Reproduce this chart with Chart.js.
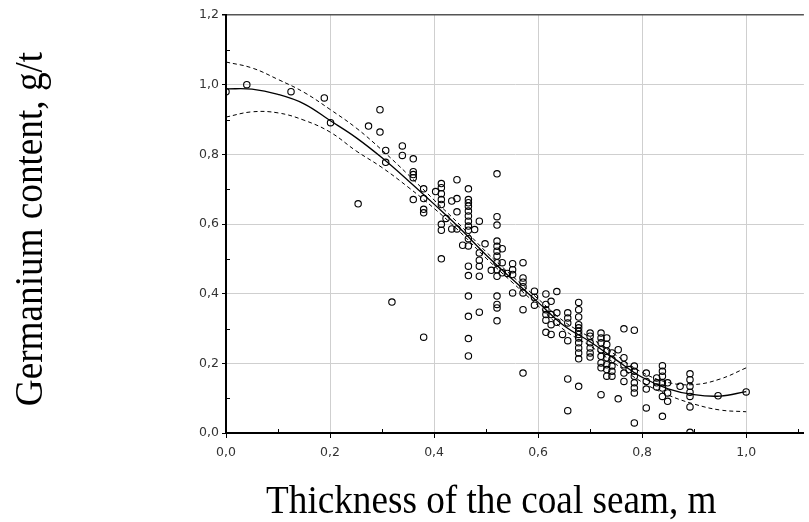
<!DOCTYPE html>
<html>
<head>
<meta charset="utf-8">
<script src="https://cdn.jsdelivr.net/npm/chart.js@4/dist/chart.umd.min.js"></script>
<style>
  html, body { margin: 0; padding: 0; background: #fff; overflow: hidden; }
  #wrap { width: 809px; height: 522px; position: relative; }
</style>
</head>
<body>
<div id="wrap"><canvas id="chart" width="809" height="522"></canvas></div>
<script>
// Seam thickness (m) and germanium content (g/t) of the samples
const thickness = [
  0.0, 0.04, 0.125, 0.189, 0.201, 0.254, 0.274, 0.296, 0.296, 0.307, 0.307, 0.319, 0.339, 0.339,
  0.36, 0.36, 0.36, 0.36, 0.36, 0.38, 0.38, 0.38, 0.38, 0.38, 0.403,
  0.414, 0.414, 0.414, 0.414, 0.414, 0.414, 0.414, 0.414, 0.423, 0.434, 0.434,
  0.444, 0.444, 0.444, 0.444, 0.455,
  0.466, 0.466, 0.466, 0.466, 0.466, 0.466, 0.466, 0.466, 0.466, 0.466, 0.466,
  0.466, 0.466, 0.466, 0.466, 0.466, 0.466, 0.478,
  0.487, 0.487, 0.487, 0.487, 0.487, 0.487, 0.498, 0.51,
  0.521, 0.521, 0.521, 0.521, 0.521, 0.521, 0.521, 0.521, 0.521, 0.521, 0.521, 0.521, 0.521, 0.521,
  0.531, 0.531, 0.531, 0.541, 0.551, 0.551, 0.551, 0.551,
  0.571, 0.571, 0.571, 0.571, 0.571, 0.571, 0.571, 0.593, 0.593, 0.593,
  0.615, 0.615, 0.615, 0.615, 0.615, 0.615, 0.625, 0.625, 0.625, 0.625, 0.636, 0.636, 0.636, 0.647,
  0.657, 0.657, 0.657, 0.657, 0.657, 0.657,
  0.678, 0.678, 0.678, 0.678, 0.678, 0.678, 0.678, 0.678, 0.678, 0.678, 0.678, 0.678, 0.678,
  0.7, 0.7, 0.7, 0.7, 0.7, 0.7,
  0.721, 0.721, 0.721, 0.721, 0.721, 0.721, 0.721, 0.721,
  0.732, 0.732, 0.732, 0.732, 0.732, 0.732, 0.732,
  0.742, 0.742, 0.742, 0.742, 0.742, 0.754, 0.754,
  0.765, 0.765, 0.765, 0.765, 0.765, 0.775,
  0.785, 0.785, 0.785, 0.785, 0.785, 0.785, 0.785, 0.785,
  0.808, 0.808, 0.808, 0.808, 0.828, 0.828, 0.828,
  0.839, 0.839, 0.839, 0.839, 0.839, 0.839, 0.839, 0.849, 0.849, 0.849, 0.873,
  0.892, 0.892, 0.892, 0.892, 0.892, 0.892, 0.892, 0.946, 1.0
];
const germanium = [
  0.98, 1.0, 0.98, 0.962, 0.891, 0.658, 0.881, 0.928, 0.864, 0.811, 0.777, 0.376, 0.824, 0.797,
  0.787, 0.75, 0.742, 0.733, 0.67, 0.701, 0.673, 0.642, 0.632, 0.275, 0.693,
  0.716, 0.704, 0.687, 0.67, 0.656, 0.599, 0.582, 0.5, 0.616, 0.666, 0.586,
  0.727, 0.673, 0.635, 0.586, 0.539,
  0.701, 0.67, 0.661, 0.651, 0.637, 0.623, 0.608, 0.594, 0.582, 0.558, 0.537,
  0.479, 0.452, 0.393, 0.335, 0.271, 0.221, 0.584,
  0.608, 0.517, 0.496, 0.479, 0.45, 0.347, 0.543, 0.467,
  0.744, 0.621, 0.597, 0.551, 0.536, 0.522, 0.508, 0.489, 0.469, 0.45, 0.393, 0.369, 0.359, 0.322,
  0.529, 0.489, 0.46, 0.458, 0.486, 0.469, 0.455, 0.402,
  0.489, 0.445, 0.433, 0.42, 0.402, 0.354, 0.172, 0.407, 0.39, 0.367,
  0.399, 0.369, 0.354, 0.34, 0.324, 0.289, 0.378, 0.34, 0.311, 0.283, 0.406, 0.345, 0.318, 0.283,
  0.345, 0.33, 0.316, 0.265, 0.155, 0.064,
  0.375, 0.354, 0.333, 0.311, 0.302, 0.292, 0.283, 0.273, 0.259, 0.244, 0.23, 0.213, 0.134,
  0.287, 0.278, 0.259, 0.244, 0.23, 0.218,
  0.287, 0.273, 0.259, 0.239, 0.22, 0.201, 0.187, 0.11,
  0.273, 0.254, 0.235, 0.216, 0.196, 0.182, 0.163,
  0.23, 0.211, 0.192, 0.177, 0.163, 0.239, 0.098,
  0.299, 0.216, 0.196, 0.172, 0.148, 0.182,
  0.295, 0.192, 0.177, 0.163, 0.144, 0.129, 0.115, 0.029,
  0.172, 0.148, 0.126, 0.072, 0.158, 0.144, 0.132,
  0.193, 0.177, 0.163, 0.144, 0.129, 0.105, 0.048, 0.144, 0.115, 0.091, 0.134,
  0.17, 0.153, 0.134, 0.117, 0.105, 0.075, 0.002, 0.107, 0.118
];

// Regression curve and its confidence band, sampled along the thickness axis
const fitX     = [0, 0.05, 0.1, 0.15, 0.2, 0.25, 0.3, 0.35, 0.4, 0.45, 0.5, 0.55, 0.6, 0.65, 0.7, 0.75, 0.8, 0.85, 0.9, 0.95, 1.0];
const fitMean  = [0.988, 0.987, 0.972, 0.945, 0.897, 0.848, 0.790, 0.725, 0.657, 0.587, 0.511, 0.442, 0.375, 0.308, 0.262, 0.210, 0.160, 0.127, 0.110, 0.106, 0.119];
const fitUpper = [1.065, 1.048, 1.015, 0.978, 0.929, 0.876, 0.812, 0.742, 0.669, 0.597, 0.520, 0.451, 0.385, 0.320, 0.274, 0.223, 0.174, 0.145, 0.139, 0.155, 0.187];
const fitLower = [0.907, 0.922, 0.919, 0.898, 0.864, 0.810, 0.762, 0.706, 0.645, 0.577, 0.502, 0.433, 0.365, 0.296, 0.250, 0.197, 0.146, 0.109, 0.083, 0.066, 0.061];

// Axis ticks
const xMajor = [0, 0.2, 0.4, 0.6, 0.8, 1.0];
const xMinor = [0.1, 0.3, 0.5, 0.7, 0.9, 1.1];
const yMajor = [0, 0.2, 0.4, 0.6, 0.8, 1.0, 1.2];
const yMinor = [0.1, 0.3, 0.5, 0.7, 0.9, 1.1];

const xTitle = 'Thickness of the coal seam, m';
const yTitle = 'Germanium content, g/t';

const fmt = v => v.toFixed(1).replace('.', ',');
const pairs = (xs, ys) => xs.map((x, i) => ({ x, y: ys[i] }));
const tickFont = { family: '"DejaVu Sans", Verdana, sans-serif', size: 12.5 };

// Inward minor tick marks and the two serif axis titles
const decorations = {
  id: 'decorations',
  afterDraw(chart) {
    const { ctx, chartArea: a, scales: { x, y } } = chart;
    ctx.save();
    ctx.strokeStyle = '#000';
    ctx.lineWidth = 1;
    ctx.beginPath();
    xMinor.forEach(v => {
      const px = Math.round(x.getPixelForValue(v)) + 0.5;
      if (px < a.right) { ctx.moveTo(px, a.bottom); ctx.lineTo(px, a.bottom - 4); }
    });
    yMinor.forEach(v => {
      const py = Math.round(y.getPixelForValue(v)) + 0.5;
      ctx.moveTo(a.left, py); ctx.lineTo(a.left + 4, py);
    });
    ctx.stroke();

    ctx.fillStyle = '#000';
    ctx.font = '40px "Liberation Serif", "Times New Roman", serif';
    ctx.textAlign = 'center';
    ctx.textBaseline = 'alphabetic';
    // horizontal title
    ctx.save();
    ctx.translate(x.getPixelForValue(0.51), 513);
    ctx.scale(0.93, 1);
    ctx.fillText(xTitle, 0, 0);
    ctx.restore();
    // vertical title
    ctx.save();
    ctx.translate(42, (a.top + a.bottom) / 2 + 5);
    ctx.rotate(-Math.PI / 2);
    ctx.scale(0.93, 1);
    ctx.fillText(yTitle, 0, 0);
    ctx.restore();
    ctx.restore();
  }
};

new Chart(document.getElementById('chart'), {
  type: 'scatter',
  data: {
    datasets: [
      {
        type: 'line', data: pairs(fitX, fitMean), borderColor: '#000', borderWidth: 1.3,
        pointRadius: 0, tension: 0.4, fill: false
      },
      {
        type: 'line', data: pairs(fitX, fitUpper), borderColor: '#000', borderWidth: 1,
        borderDash: [4, 3], pointRadius: 0, tension: 0.4, fill: false
      },
      {
        type: 'line', data: pairs(fitX, fitLower), borderColor: '#000', borderWidth: 1,
        borderDash: [4, 3], pointRadius: 0, tension: 0.4, fill: false
      },
      {
        data: pairs(thickness, germanium), pointStyle: 'circle', pointRadius: 3.2,
        borderColor: '#000', borderWidth: 1.1, backgroundColor: 'rgba(0,0,0,0)'
      }
    ]
  },
  options: {
    responsive: false,
    animation: false,
    devicePixelRatio: 1,
    layout: { padding: { top: 15, left: 0, right: 0, bottom: 0 } },
    plugins: { legend: { display: false }, tooltip: { enabled: false } },
    scales: {
      x: {
        type: 'linear', min: 0, max: 1.111,
        afterBuildTicks: s => { s.ticks = xMajor.map(v => ({ value: v })); },
        afterFit: s => { s.height = 89; },
        ticks: { callback: v => fmt(v), color: '#333', padding: 7, font: tickFont },
        grid: { color: '#cfcfcf', lineWidth: 1, tickColor: '#000', tickLength: 5, drawTicks: true },
        border: { display: true, color: '#000', width: 2 }
      },
      y: {
        type: 'linear', min: 0, max: 1.2,
        afterBuildTicks: s => { s.ticks = yMajor.map(v => ({ value: v })); },
        afterFit: s => { s.width = 226; },
        ticks: { callback: v => fmt(v), color: '#333', padding: 3, font: tickFont },
        grid: {
          color: c => (c.tick && c.tick.value === 1.2 ? '#555' : '#cfcfcf'),
          lineWidth: c => (c.tick && c.tick.value === 1.2 ? 1.5 : 1),
          tickColor: '#000', tickLength: 4, drawTicks: true
        },
        border: { display: true, color: '#000', width: 2 }
      }
    }
  },
  plugins: [decorations]
});
</script>
</body>
</html>
